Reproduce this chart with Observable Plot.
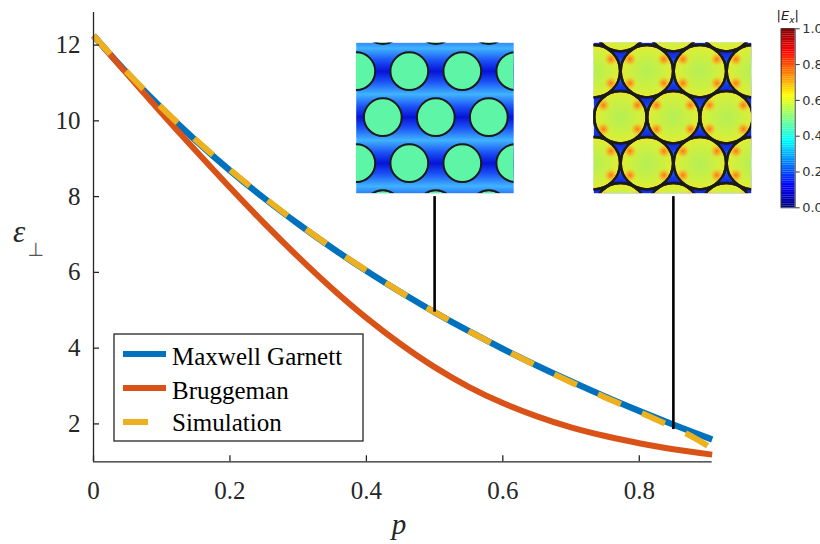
<!DOCTYPE html>
<html><head><meta charset="utf-8">
<script src="https://cdn.jsdelivr.net/npm/d3@7"></script>
<script src="https://cdn.jsdelivr.net/npm/@observablehq/plot@0.6"></script>
<style>
html,body{margin:0;padding:0;background:#fff;overflow:hidden;}
#wrap{position:relative;width:820px;height:544px;overflow:hidden;}
</style></head><body><div id="wrap"></div>
<script>
// ---- data ----
const pValues = [0, 0.05, 0.1, 0.15, 0.2, 0.25, 0.3, 0.35, 0.4, 0.45, 0.5, 0.55, 0.6, 0.65, 0.7, 0.75, 0.8, 0.85, 0.9069];
const maxwellGarnett = [12.25, 11.25, 10.33, 9.48, 8.69, 7.96, 7.28, 6.64, 6.04, 5.48, 4.95, 4.45, 3.98, 3.54, 3.12, 2.72, 2.34, 1.98, 1.59];
const bruggeman = [12.25, 11.22, 10.20, 9.21, 8.24, 7.30, 6.41, 5.57, 4.80, 4.11, 3.50, 2.98, 2.55, 2.20, 1.91, 1.68, 1.49, 1.33, 1.19];
const simP = [0, 0.05, 0.1, 0.15, 0.2, 0.25, 0.3, 0.35, 0.4, 0.45, 0.5, 0.55, 0.6, 0.65, 0.7, 0.75, 0.8, 0.85, 0.88, 0.9069];
const simulation = [12.25, 11.27, 10.35, 9.50, 8.71, 7.98, 7.29, 6.65, 6.05, 5.48, 4.95, 4.45, 3.98, 3.53, 3.10, 2.70, 2.31, 1.91, 1.64, 1.35];
const seriesNames = ["Maxwell Garnett", "Bruggeman", "Simulation"];
const seriesColors = ["#0072BD", "#D95319", "#EDB120"];
const xTicks = [0, 0.2, 0.4, 0.6, 0.8];
const yTicks = [2, 4, 6, 8, 10, 12];
const insetP = [0.5, 0.85];
const insetFill = [0.5, 0.85];       // filling fraction shown in each inset
const pointerTop = [8.0, 8.0];
const pointerBottom = [4.95, 1.85];
const colorbarTicks = [0, 0.2, 0.4, 0.6, 0.8, 1.0];
const jetStops = [0, 0.125, 0.375, 0.625, 0.875, 1];
const jetColors = ["#00007f", "#0000ff", "#00ffff", "#ffff00", "#ff0000", "#7f0000"];

const mg = pValues.map((p, i) => ({p, e: maxwellGarnett[i]}));
const br = pValues.map((p, i) => ({p, e: bruggeman[i]}));
const sim = simP.map((p, i) => ({p, e: simulation[i]}));
const pointers = insetP.map((p, i) => ({p, top: pointerTop[i], bottom: pointerBottom[i]}));

const serif = "'Liberation Serif','Times New Roman',serif";
const axisColor = "#262626";

const chart = Plot.plot({
  width: 820, height: 544,
  marginLeft: 93, marginRight: 108.3, marginTop: 12, marginBottom: 82.7,
  x: {domain: [0, 0.9069]},
  y: {domain: [1, 12.86]},
  style: {fontFamily: serif, fontSize: "25px", color: axisColor, background: "#fff", overflow: "visible"},
  marks: [
    Plot.lineY(mg, {x: "p", y: "e", stroke: seriesColors[0], strokeWidth: 6.3, curve: "catmull-rom", strokeLinecap: "butt"}),
    Plot.lineY(br, {x: "p", y: "e", stroke: seriesColors[1], strokeWidth: 6, curve: "catmull-rom", strokeLinecap: "butt"}),
    Plot.lineY(sim, {x: "p", y: "e", stroke: seriesColors[2], strokeWidth: 6, curve: "catmull-rom", strokeLinecap: "butt", strokeDasharray: "25,23"}),
    Plot.ruleX(pointers, {x: "p", y1: "top", y2: "bottom", stroke: "#000", strokeWidth: 2.6}),
    Plot.ruleX([0], {stroke: axisColor, strokeWidth: 1.3}),
    Plot.ruleY([1], {stroke: axisColor, strokeWidth: 1.3}),
    Plot.axisX({ticks: xTicks, tickSize: -6, tickPadding: 25, tickFormat: d => d === 0 ? "0" : d.toFixed(1), label: null, stroke: axisColor, strokeWidth: 1.3}),
    Plot.axisY({ticks: yTicks, tickSize: -6, tickPadding: 19, tickFormat: d => String(d), label: null, stroke: axisColor, strokeWidth: 1.3})
  ]
});

const svg = d3.select(chart);

// axis labels
svg.append("text").attr("x", 13).attr("y", 242).attr("fill", axisColor).attr("text-anchor", "start")
  .attr("font-family", serif).attr("font-style", "italic").attr("font-size", 31).text("ε");
svg.append("text").attr("x", 27.5).attr("y", 255.5).attr("fill", "#555").attr("text-anchor", "start")
  .attr("font-family", "'DejaVu Sans',sans-serif").attr("font-size", 19).text("⊥");
svg.append("text").attr("x", 399).attr("y", 534).attr("text-anchor", "middle").attr("fill", axisColor)
  .attr("font-family", serif).attr("font-style", "italic").attr("font-size", 29).text("p");

// legend
const lg = svg.append("g");
lg.append("rect").attr("x", 114).attr("y", 334).attr("width", 249).attr("height", 107)
  .attr("fill", "#fff").attr("stroke", axisColor).attr("stroke-width", 1.3);
const lineY = [354, 388, 422];
const textY = [364.5, 398.5, 430.5];
seriesNames.forEach((name, i) => {
  lg.append("line").attr("x1", 123).attr("x2", i === 2 ? 148 : 166).attr("y1", lineY[i]).attr("y2", lineY[i])
    .attr("stroke", seriesColors[i]).attr("stroke-width", 6);
  lg.append("text").attr("x", 172).attr("y", textY[i]).attr("fill", "#000").attr("text-anchor", "start")
    .attr("font-family", serif).attr("font-size", 25).text(name);
});

// ---- insets (field maps) ----
const lattice = 53, insetW = 158, insetH = 151;
const rowY = [-17.6, 28.4, 74.4, 120.4, 166.4];
const centers = [];
rowY.forEach((y, i) => {
  const off = (i % 2 === 1) ? 0.1 : 26.6;
  for (let k = -1; k <= 3; k++) centers.push({x: off + k * lattice, y});
});
const spots = [];
centers.forEach(c => { [[17, 12], [17, -12], [-17, 12], [-17, -12]].forEach(([dx, dy]) => spots.push({x: c.x + dx, y: c.y + dy})); });

function nest(p, x, y, w, h, extra) {
  p.setAttribute("style", `width:${w}px;height:${h}px;max-width:none;overflow:visible;background:none;${extra || ""}`);
  d3.select(p).attr("x", x).attr("y", y).attr("width", w).attr("height", h);
  chart.appendChild(p);
}

function inset(idx) {
  const rr = Math.sqrt(insetFill[idx] * Math.sqrt(3) / (2 * Math.PI)) * lattice;
  const left = idx === 0;
  const rad = left ? rr - 0.8 : rr + 0.5;
  const marks = [
    Plot.frame({fill: left ? "url(#bandL)" : "url(#bandR)"}),
    Plot.dot(centers, {x: "x", y: "y", r: rad, fill: left ? "#5ef5a7" : "url(#discR)", stroke: "#1a1a1a", strokeWidth: left ? 2 : 2.4, clip: true})
  ];
  if (!left) {
    marks.push(Plot.dot(spots, {x: "x", y: "y", r: 7.5, fill: "url(#spotR)", clip: true}));
    marks.push(Plot.dot(centers, {x: "x", y: "y", r: rad, fill: "none", stroke: "#1a1a1a", strokeWidth: 2.4, clip: true}));
  }
  const p = Plot.plot({
    width: insetW, height: insetH, margin: 0,
    x: {domain: [0, insetW], axis: null},
    y: {domain: [0, insetH], reverse: true, axis: null},
    marks
  });
  const defs = d3.select(p).insert("defs", ":first-child");
  if (left) {
    const g = defs.append("linearGradient").attr("id", "bandL").attr("gradientUnits", "userSpaceOnUse")
      .attr("x1", 0).attr("x2", 0).attr("y1", 28.4).attr("y2", 51.4).attr("spreadMethod", "reflect");
    g.append("stop").attr("offset", 0).attr("stop-color", "#0612d6");
    g.append("stop").attr("offset", 0.45).attr("stop-color", "#1a50f5");
    g.append("stop").attr("offset", 1).attr("stop-color", "#40b4ff");
  } else {
    const g = defs.append("linearGradient").attr("id", "bandR").attr("gradientUnits", "userSpaceOnUse")
      .attr("x1", 0).attr("x2", 0).attr("y1", 28.4).attr("y2", 51.4).attr("spreadMethod", "reflect");
    g.append("stop").attr("offset", 0).attr("stop-color", "#2aa0ff");
    g.append("stop").attr("offset", 0.6).attr("stop-color", "#1438f0");
    g.append("stop").attr("offset", 1).attr("stop-color", "#0c20d0");
    const d = defs.append("radialGradient").attr("id", "discR");
    d.append("stop").attr("offset", 0).attr("stop-color", "#b4ef55");
    d.append("stop").attr("offset", 0.75).attr("stop-color", "#d2f03c");
    d.append("stop").attr("offset", 1).attr("stop-color", "#ece82c");
    const s = defs.append("radialGradient").attr("id", "spotR");
    s.append("stop").attr("offset", 0).attr("stop-color", "#ff7010").attr("stop-opacity", 0.95);
    s.append("stop").attr("offset", 0.5).attr("stop-color", "#ffa020").attr("stop-opacity", 0.6);
    s.append("stop").attr("offset", 1).attr("stop-color", "#f0e030").attr("stop-opacity", 0);
  }
  return p;
}
const insetX = [355.7, 593.3];
[0, 1].forEach(i => nest(inset(i), insetX[i], 42.3, insetW, insetH, "overflow:hidden;"));

// ---- colorbar ----
const levels = d3.range(0, 1, 0.01);
const cb = Plot.plot({
  width: 100, height: 220,
  marginLeft: 10.7, marginRight: 75.3, marginTop: 28.3, marginBottom: 12.7,
  x: {domain: [0, 1], axis: null},
  y: {domain: [0, 1]},
  color: {type: "linear", domain: jetStops, range: jetColors},
  marks: [
    Plot.rect(levels, {x1: 0, x2: 1, y1: d => d, y2: d => d + 0.0105, fill: d => d + 0.005}),
    Plot.frame({stroke: "#333", strokeWidth: 0.9}),
    Plot.axisY({anchor: "right", ticks: colorbarTicks, tickFormat: d3.format(".1f"), tickSize: 4, tickPadding: 3, label: null, stroke: "#333", fill: "#333"})
  ]
});
const cbl = d3.select(cb).append("text").attr("x", 17.7).attr("y", 20).attr("text-anchor", "middle")
  .attr("font-family", "'DejaVu Sans',sans-serif").attr("font-size", 13).attr("fill", "#222");
cbl.append("tspan").text("|");
cbl.append("tspan").attr("font-style", "italic").text("E");
cbl.append("tspan").attr("font-style", "italic").attr("font-size", 9).attr("dy", 3).text("x");
cbl.append("tspan").attr("dy", -3).text("|");
nest(cb, 770, 0, 100, 220, "font-family:'DejaVu Sans',sans-serif;font-size:13px;color:#333;");

document.getElementById("wrap").appendChild(chart);
</script>
</body></html>
